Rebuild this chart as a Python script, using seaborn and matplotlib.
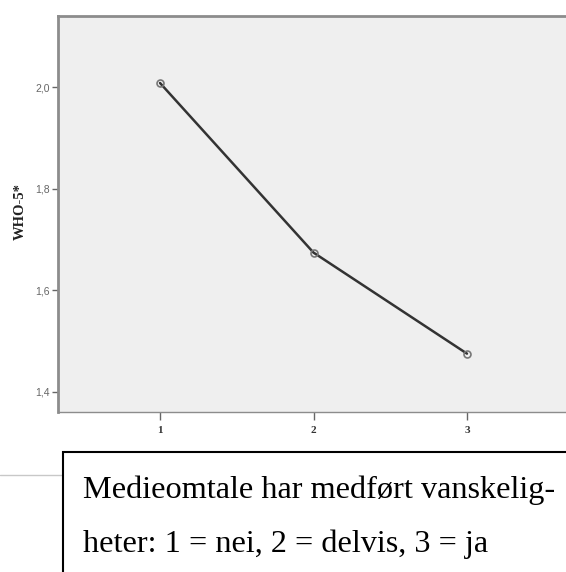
import matplotlib
matplotlib.use("Agg")
import matplotlib.pyplot as plt
import seaborn as sns
import pandas as pd
from matplotlib.patches import Rectangle
from matplotlib.lines import Line2D

categories = [1, 2, 3]
values = [2.008, 1.674, 1.475]
yticks = [1.4, 1.6, 1.8, 2.0]
ytick_labels = ["1,4", "1,6", "1,8", "2,0"]
ylabel = "WHO-5*"
caption_lines = ["Medieomtale har medført vanskelig-", "heter: 1 = nei, 2 = delvis, 3 = ja"]

sns.set_style("white")
W, H = 566, 572
fig = plt.figure(figsize=(W / 100, H / 100), dpi=100)
ax = fig.add_axes([58 / W, 1 - 412 / H, (569 - 58) / W, (412 - 16) / H])
ax.set_facecolor("#efefef")

df = pd.DataFrame({"x": categories, "y": values})
sns.lineplot(data=df, x="x", y="y", ax=ax, color="#333333", linewidth=1.8,
             marker="o", markersize=5, markerfacecolor="none",
             markeredgecolor="#777777", markeredgewidth=1.2)

ax.set_xlim(0.335, 3.665)
ax.set_ylim(1.36, 2.14)
ax.set_xticks(categories)
ax.set_xticklabels([str(c) for c in categories], fontfamily="Liberation Serif",
                   fontweight="bold", fontsize=8, color="#333333")
ax.set_yticks(yticks)
ax.set_yticklabels(ytick_labels, fontfamily="Liberation Sans", fontsize=7.5, color="#666666")
ax.tick_params(axis="both", direction="out", length=4, width=1, color="#666666", pad=2,
               bottom=True, left=True)
ax.tick_params(axis="x", pad=4, length=6)
ax.set_xlabel("")
ax.set_ylabel(ylabel, fontfamily="Liberation Serif", fontweight="bold", fontsize=10.5,
              color="#222222")
ax.yaxis.set_label_coords(-(58 - 27) / (569 - 58), (412 - 212) / (412 - 16))

for side in ["left", "top"]:
    ax.spines[side].set_color("#8c8c8c")
    ax.spines[side].set_linewidth(2)
ax.spines["bottom"].set_color("#8c8c8c")
ax.spines["bottom"].set_linewidth(1)
ax.spines["right"].set_visible(False)

# caption box
fig.patches.append(Rectangle((63 / W, -0.1), 1.0, 1 - 452 / H + 0.1, transform=fig.transFigure,
                             facecolor="white", edgecolor="black", linewidth=1.5, zorder=5))
fig.lines.append(Line2D([0, 62 / W], [1 - 475 / H, 1 - 475 / H], transform=fig.transFigure,
                        color="#c8c8c8", linewidth=1))
fig.text(83 / W, 1 - 498 / H, caption_lines[0], fontfamily="Liberation Serif", fontsize=23.2,
         color="black", va="baseline", ha="left", zorder=6)
fig.text(83 / W, 1 - 552 / H, caption_lines[1], fontfamily="Liberation Serif", fontsize=23.2,
         color="black", va="baseline", ha="left", zorder=6)

fig.savefig("out.png", dpi=100)
